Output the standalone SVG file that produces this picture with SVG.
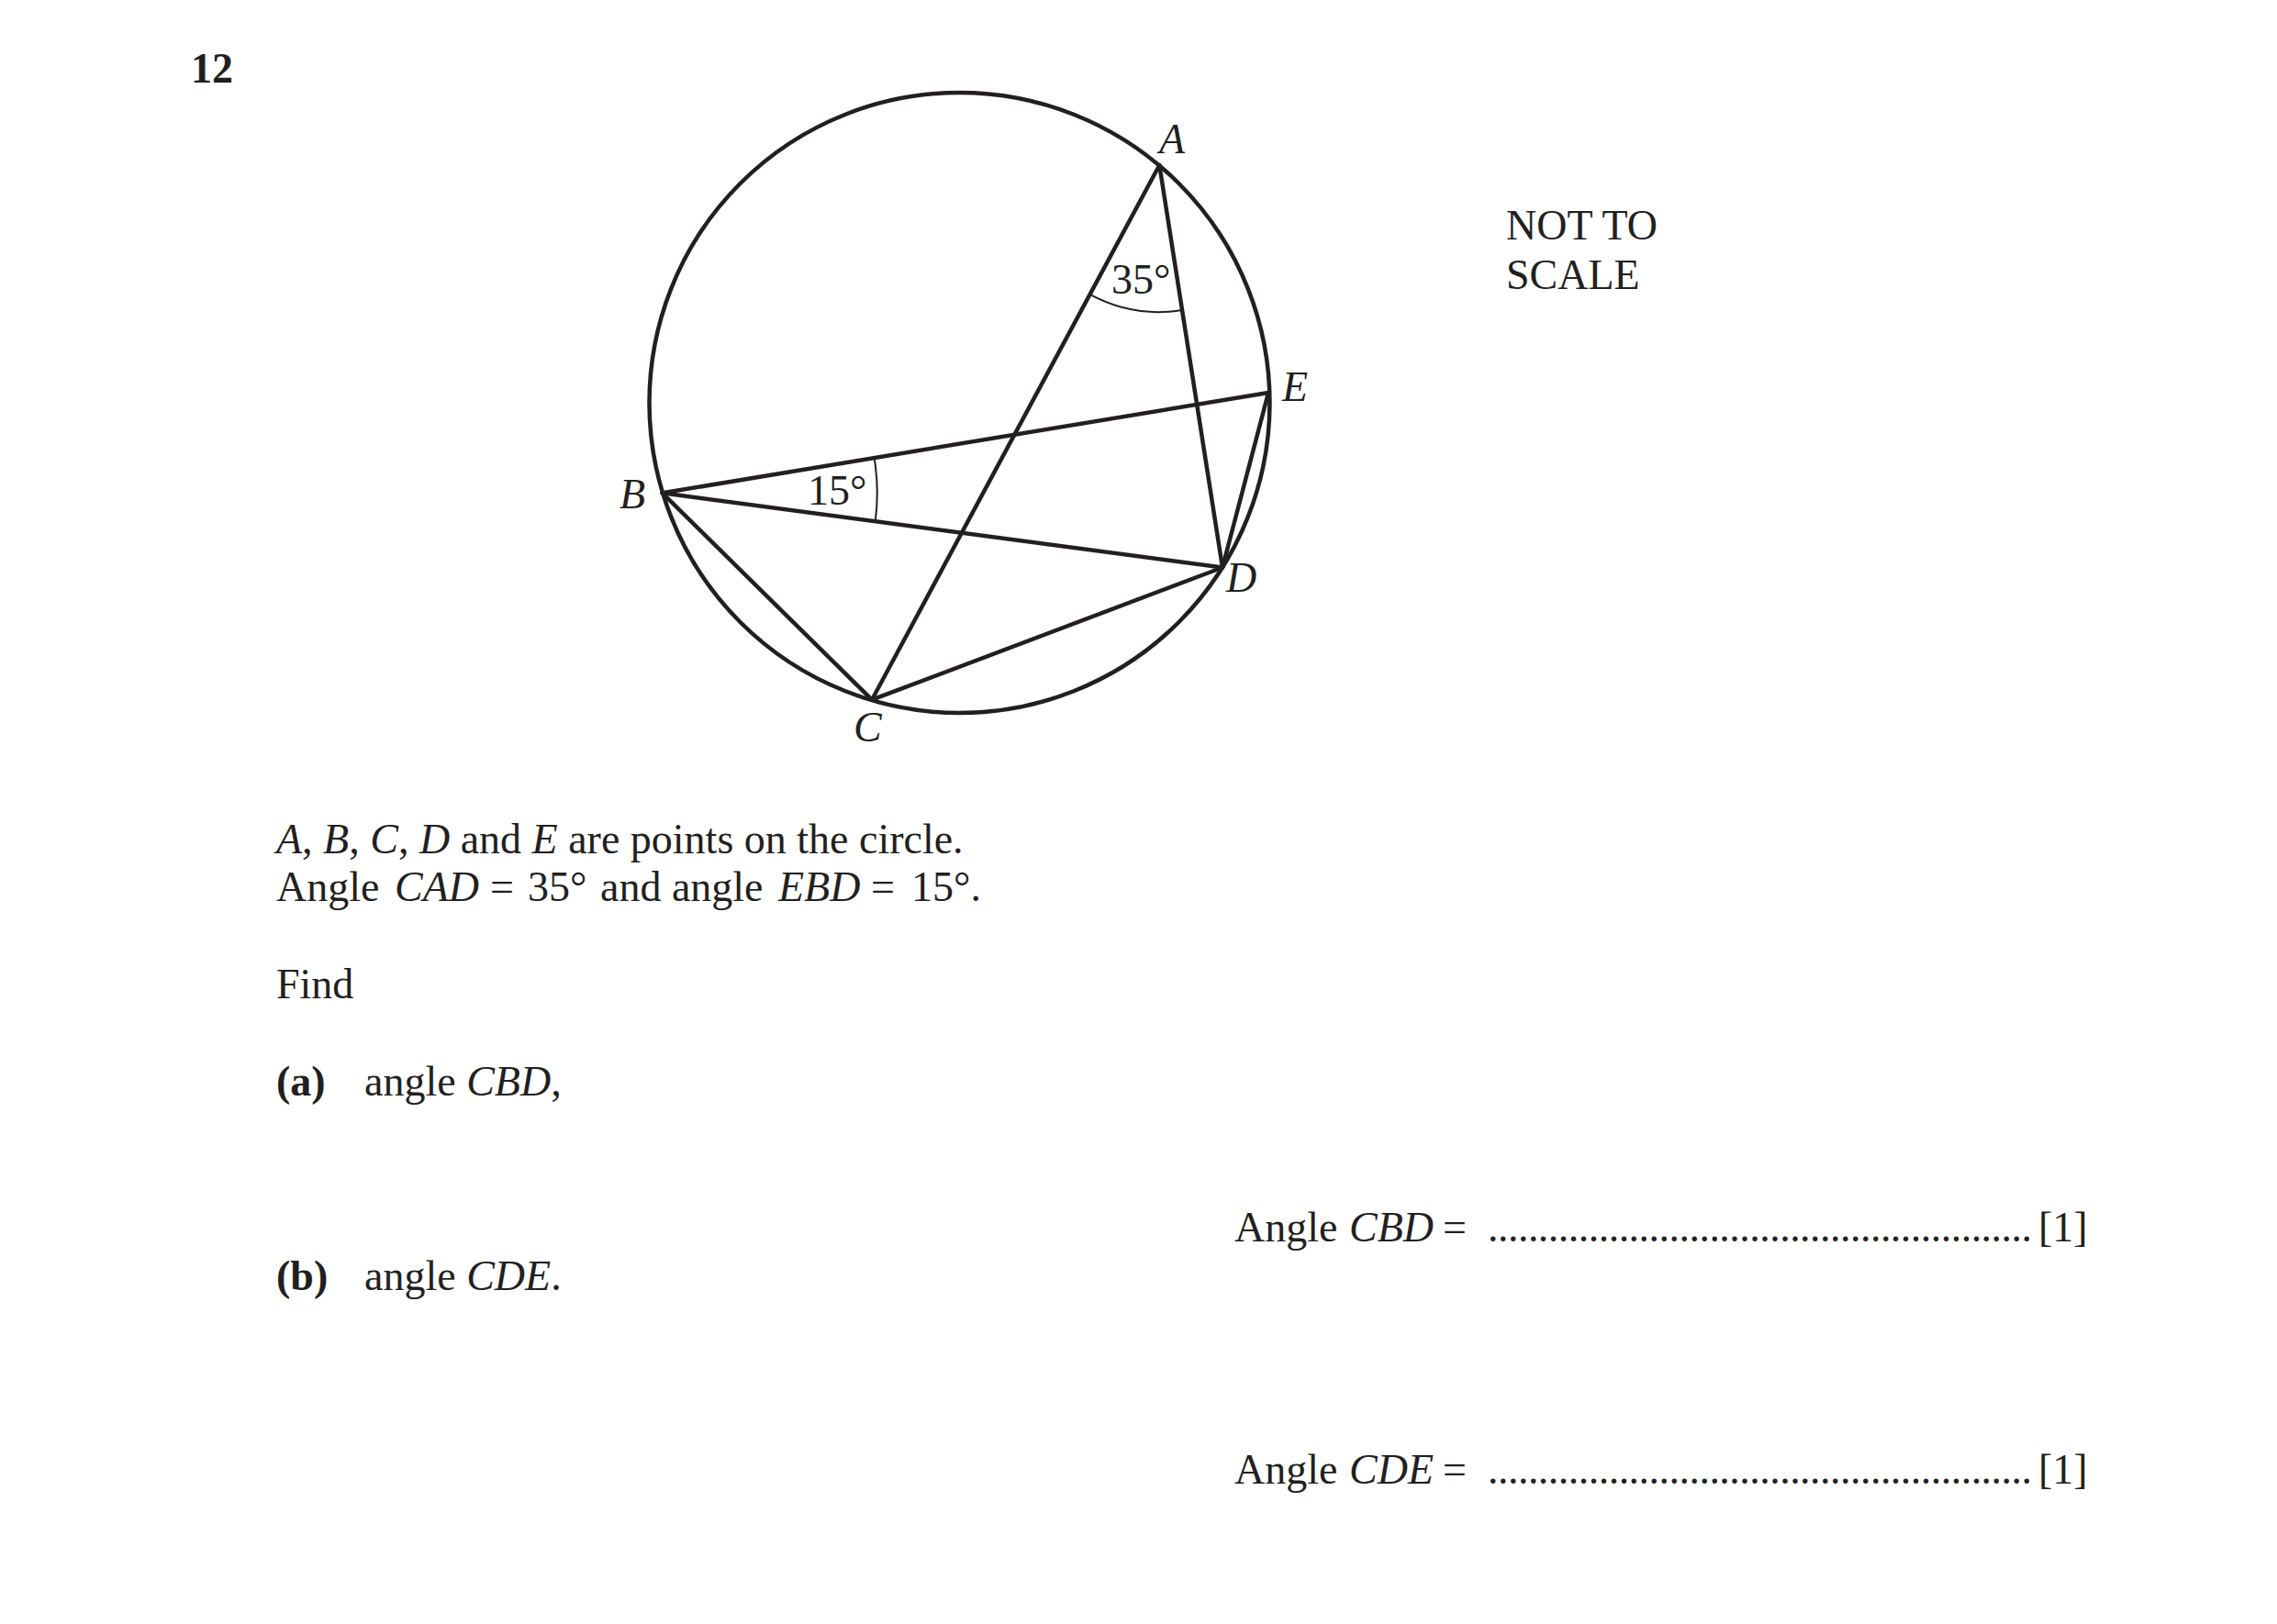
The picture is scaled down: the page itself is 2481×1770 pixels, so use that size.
<svg xmlns="http://www.w3.org/2000/svg" width="2481" height="1770" viewBox="0 0 2481 1770">
<style>
text{font-family:"Liberation Serif","Times New Roman",serif;font-size:46px;fill:#231f20}
.i{font-style:italic}
.b{font-weight:bold}
.ln{stroke:#231f20;stroke-width:4.5;fill:none;stroke-linecap:round;stroke-linejoin:round}
.arc{stroke:#231f20;stroke-width:2;fill:none}
</style>
<rect x="0" y="0" width="2481" height="1770" fill="#ffffff"/>
<text id="qnum" class="b" x="208" y="90">12</text>
<g id="circle"><circle class="ln" cx="1045.5" cy="439" r="338"/></g>
<g id="connectors">
<line class="ln" x1="1263.3" y1="180" x2="950" y2="762.7"/>
<line class="ln" x1="1263.3" y1="180" x2="1332" y2="618.5"/>
<line class="ln" x1="721.7" y1="537.3" x2="1382" y2="428"/>
<line class="ln" x1="721.7" y1="537.3" x2="1332" y2="618.5"/>
<line class="ln" x1="721.7" y1="537.3" x2="950" y2="762.7"/>
<line class="ln" x1="950" y1="762.7" x2="1332" y2="618.5"/>
<line class="ln" x1="1382" y1="428" x2="1332" y2="618.5"/>
<path class="arc" d="M1187.5 320.9 A160 160 0 0 0 1288.1 338.1"/>
<path class="arc" d="M952.6 499.1 A234 234 0 0 1 953.7 568.2"/>
</g>
<g id="nodeA"><text class="i" x="1263" y="167">A</text></g>
<g id="nodeB"><text class="i" x="675" y="554">B</text></g>
<g id="nodeC"><text class="i" x="930" y="808">C</text></g>
<g id="nodeD"><text class="i" x="1336" y="645">D</text></g>
<g id="nodeE"><text class="i" x="1397" y="437">E</text></g>
<g id="angle35"><text x="1211" y="320">35°</text></g>
<g id="angle15"><text x="880" y="550">15°</text></g>
<g id="note"><text x="1641" y="261">NOT TO</text><text x="1641" y="315">SCALE</text></g>
<g id="question">
<text x="301" y="930"><tspan class="i">A</tspan>, <tspan class="i">B</tspan>, <tspan class="i">C</tspan>, <tspan class="i">D</tspan> and <tspan class="i">E</tspan> are points on the circle.</text>
<text y="982"><tspan x="301">Angle</tspan><tspan class="i" x="430">CAD</tspan><tspan x="534">=</tspan><tspan x="575">35°</tspan><tspan x="654">and angle</tspan><tspan class="i" x="848">EBD</tspan><tspan x="949">=</tspan><tspan x="993">15°.</tspan></text>
<text x="301" y="1088">Find</text>
<text y="1194"><tspan class="b" x="301">(a)</tspan><tspan x="397">angle </tspan><tspan class="i">CBD</tspan>,</text>
<text y="1406"><tspan class="b" x="301">(b)</tspan><tspan x="397">angle </tspan><tspan class="i">CDE</tspan>.</text>
</g>
<g id="answers">
<text y="1353"><tspan x="1345">Angle</tspan><tspan class="i" x="1470">CBD</tspan><tspan x="1572">=</tspan></text>
<text x="1621" y="1353" textLength="593" lengthAdjust="spacing">......................................................</text>
<text x="2221" y="1353">[1]</text>
<text y="1617"><tspan x="1345">Angle</tspan><tspan class="i" x="1470">CDE</tspan><tspan x="1572">=</tspan></text>
<text x="1621" y="1617" textLength="593" lengthAdjust="spacing">......................................................</text>
<text x="2221" y="1617">[1]</text>
</g>
</svg>
